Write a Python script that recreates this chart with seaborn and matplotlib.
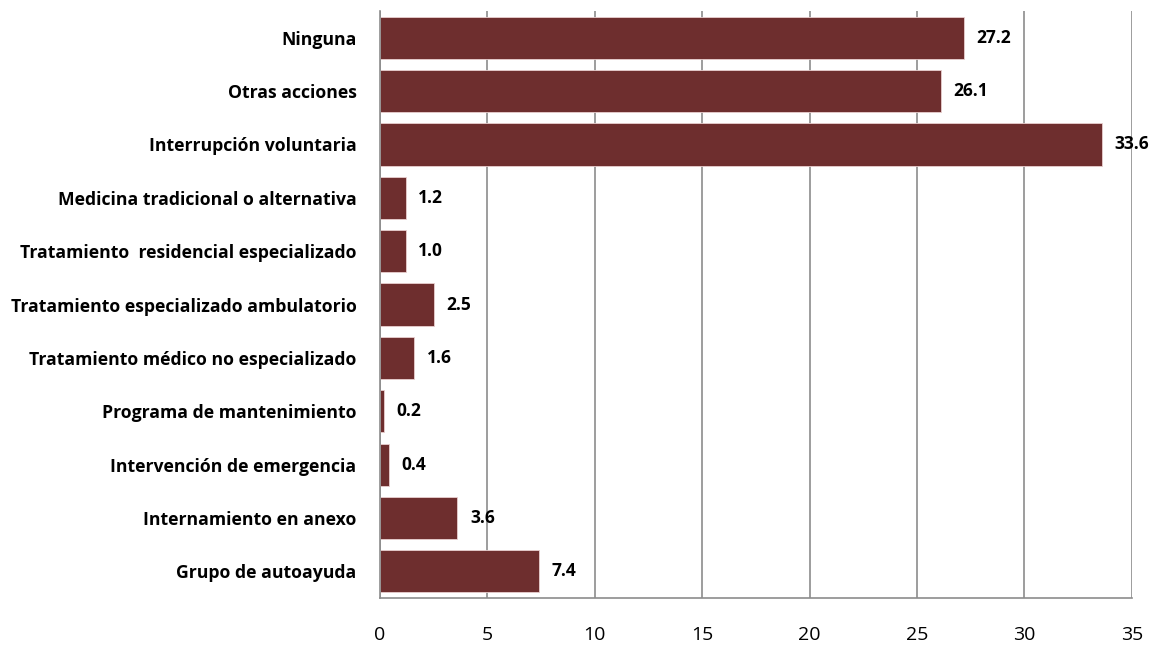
import numpy as np
import pandas as pd
import seaborn as sns
import matplotlib.pyplot as plt

# Data (top to bottom)
categories = [
    "Ninguna",
    "Otras acciones",
    "Interrupción voluntaria",
    "Medicina tradicional o alternativa",
    "Tratamiento  residencial especializado",
    "Tratamiento especializado ambulatorio",
    "Tratamiento médico no especializado",
    "Programa de mantenimiento",
    "Intervención de emergencia",
    "Internamiento en anexo",
    "Grupo de autoayuda",
]
values = [27.2, 26.1, 33.6, 1.2, 1.2, 2.5, 1.6, 0.2, 0.4, 3.6, 7.4]
value_labels = ["27.2", "26.1", "33.6", "1.2", "1.0", "2.5", "1.6", "0.2", "0.4", "3.6", "7.4"]
x_ticks = [0, 5, 10, 15, 20, 25, 30, 35]

df = pd.DataFrame({"categoria": categories, "valor": values})

sns.set_style("white")
plt.rcParams['font.family'] = ['Open Sans', 'DejaVu Sans']

fig = plt.figure(figsize=(11.57, 6.5), dpi=100)
ax = fig.add_axes([0.3285, 0.08, 0.6497, 0.903])

sns.barplot(data=df, x="valor", y="categoria", orient="h", color="#6E2E2E",
            saturation=1, width=0.79, edgecolor="#E9CFCF", linewidth=0.6, ax=ax)

ax.set_xlim(0, 35)
ax.set_ylim(10.5, -0.5)
ax.set_xticks(x_ticks)
ax.set_xticklabels([str(t) for t in x_ticks], fontsize=14, color="black")
ax.grid(axis="x", color="#8C8C8C", linewidth=1.2)
ax.grid(axis="y", visible=False)
ax.set_axisbelow(True)
ax.set_xlabel("")
ax.set_ylabel("")

# category labels, ticks at boundaries between bars
ax.set_yticks(range(len(categories)))
ax.set_yticklabels(categories, fontsize=12.7, fontweight="bold", color="black")
ax.tick_params(axis="y", which="major", length=0, pad=17)
ax.set_yticks(np.arange(-0.5, len(categories), 1), minor=True)
ax.tick_params(axis="y", which="minor", length=6, width=1.2, color="#8C8C8C")
ax.tick_params(axis="x", which="major", length=6, width=1.2, color="#8C8C8C", pad=14)

for s in ["top", "right"]:
    ax.spines[s].set_visible(False)
for s in ["left", "bottom"]:
    ax.spines[s].set_color("#8C8C8C")
    ax.spines[s].set_linewidth(1.2)

for i, (v, lab) in enumerate(zip(values, value_labels)):
    ax.annotate(lab, (v, i), xytext=(9, 0), textcoords="offset points",
                va="center", ha="left", fontsize=12.5, fontweight="bold",
                color="black")

fig.savefig("out.png", dpi=100)
